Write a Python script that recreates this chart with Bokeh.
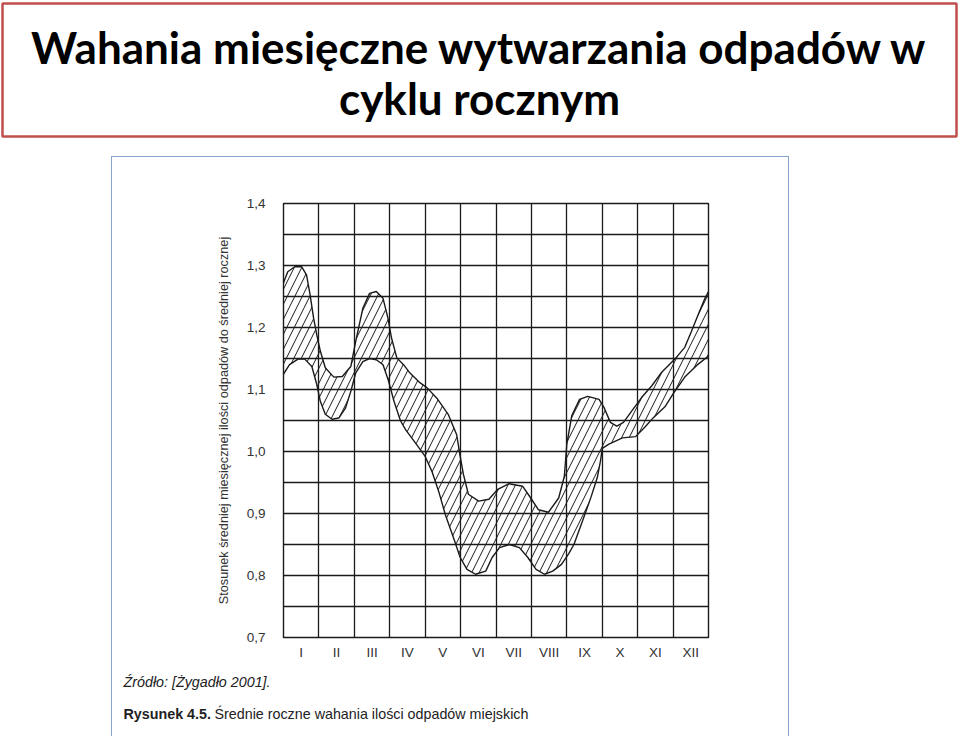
from bokeh.plotting import figure
from bokeh.layouts import column, row
from bokeh.models import Range1d, FixedTicker, CustomJSTickFormatter, Label, Spacer
from bokeh.embed import file_html
from bokeh.resources import INLINE

# ---------------- data ----------------
title_lines = ["Wahania miesięczne wytwarzania odpadów w", "cyklu rocznym"]
months = ["I", "II", "III", "IV", "V", "VI", "VII", "VIII", "IX", "X", "XI", "XII"]
y_ticks = [0.7, 0.8, 0.9, 1.0, 1.1, 1.2, 1.3, 1.4]
y_grid = [0.7, 0.75, 0.8, 0.85, 0.9, 0.95, 1.0, 1.05, 1.1, 1.15, 1.2, 1.25, 1.3, 1.35, 1.4]
x_grid = [0, 1, 2, 3, 4, 5, 6, 7, 8, 9, 10, 11, 12]

upper_x = [0, 0.12, 0.32, 0.51, 0.65, 0.75, 0.85, 0.94, 1.04, 1.18,
           1.42, 1.66, 1.9, 2.04, 2.24, 2.43, 2.62, 2.81, 2.95, 3.05,
           3.2, 3.39, 3.55, 3.83, 4.05, 4.33, 4.65, 4.89, 4.98, 5.08,
           5.22, 5.51, 5.8, 6.05, 6.37, 6.75, 6.98, 7.2, 7.48, 7.77,
           7.93, 8.0, 8.14, 8.36, 8.59, 8.91, 9.05, 9.23, 9.41, 9.6,
           9.83, 10.11, 10.4, 10.68, 11.05, 11.33, 11.52, 11.71, 11.9, 12.0]
upper_y = [1.272, 1.29, 1.298, 1.298, 1.285, 1.253, 1.215, 1.188, 1.162, 1.135,
           1.12, 1.121, 1.137, 1.178, 1.231, 1.255, 1.258, 1.247, 1.215, 1.183,
           1.151, 1.14, 1.128, 1.112, 1.103, 1.086, 1.06, 1.027, 0.995, 0.963,
           0.931, 0.92, 0.923, 0.939, 0.948, 0.944, 0.925, 0.906, 0.902, 0.925,
           0.96, 1.012, 1.058, 1.084, 1.089, 1.084, 1.071, 1.047, 1.041, 1.047,
           1.065, 1.087, 1.106, 1.128, 1.149, 1.168, 1.194, 1.221, 1.247, 1.258]

lower_x = [0, 0.17, 0.41, 0.6, 0.8, 0.94, 1.04, 1.18, 1.37, 1.56,
           1.75, 1.9, 2.04, 2.24, 2.43, 2.62, 2.81, 2.96, 3.12, 3.3,
           3.45, 3.62, 3.8, 4.0, 4.19, 4.38, 4.57, 4.8, 4.99, 5.18,
           5.42, 5.71, 5.89, 6.1, 6.38, 6.66, 6.9, 7.13, 7.37, 7.6,
           7.85, 8.05, 8.2, 8.45, 8.68, 8.86, 8.95, 9.0, 9.19, 9.57,
           9.94, 10.2, 10.45, 10.77, 11.0, 11.33, 11.71, 12.0]
lower_y = [1.125, 1.14, 1.149, 1.149, 1.137, 1.108, 1.081, 1.06, 1.052, 1.054,
           1.07, 1.097, 1.127, 1.145, 1.15, 1.148, 1.14, 1.115, 1.081, 1.05,
           1.035, 1.022, 1.008, 0.992, 0.968, 0.936, 0.898, 0.861, 0.829, 0.81,
           0.802, 0.807, 0.829, 0.845, 0.85, 0.845, 0.829, 0.81, 0.802, 0.807,
           0.818, 0.835, 0.85, 0.889, 0.926, 0.958, 0.985, 1.005, 1.012, 1.022,
           1.024, 1.039, 1.055, 1.072, 1.093, 1.12, 1.141, 1.154]

y_axis_title = "Stosunek średniej miesięcznej ilości odpadów do średniej rocznej"
source_note = "Źródło: [Żygadło 2001]."
caption_bold = "Rysunek 4.5."
caption_text = "Średnie roczne wahania ilości odpadów miejskich"

SANS = "Liberation Sans"
INK = "#1a1a1a"
TXT = "#333333"
BLUE = "1px solid #8AA4D0"

# ---------------- title box ----------------
tf = figure(width=958, height=138, x_range=Range1d(0, 1), y_range=Range1d(0, 1),
            output_backend="svg", toolbar_location=None,
            x_axis_type=None, y_axis_type=None,
            min_border_left=2, min_border_right=2, min_border_top=3, min_border_bottom=2)
tf.outline_line_color = "#C0504D"
tf.outline_line_width = 2.5
tf.background_fill_color = "white"
tf.border_fill_color = "white"
for txt, yy in zip(title_lines, [0.675, 0.29]):
    tf.add_layout(Label(x=0.5, y=yy, text=txt, text_align="center", text_baseline="middle",
                        text_font="Lato", text_font_style="bold", text_font_size="44px",
                        text_color="black"))

# ---------------- chart ----------------
p = figure(width=678, height=506, x_range=Range1d(0, 12), y_range=Range1d(0.7, 1.4),
           output_backend="svg", toolbar_location=None,
           min_border_left=171, min_border_right=82, min_border_top=46, min_border_bottom=26)
p.styles = {"border-left": BLUE, "border-top": BLUE, "border-right": BLUE}
p.background_fill_color = "white"
p.border_fill_color = "white"
p.outline_line_color = INK
p.outline_line_width = 1.4

p.xaxis.ticker = FixedTicker(ticks=[i + 0.5 for i in range(len(months))])
p.xaxis.formatter = CustomJSTickFormatter(args=dict(labels=months),
                                          code="return labels[Math.floor(tick)] || '';")
p.yaxis.ticker = FixedTicker(ticks=y_ticks)
p.yaxis.formatter = CustomJSTickFormatter(code="return tick.toFixed(1).replace('.', ',');")
for ax in p.axis:
    ax.axis_line_color = None
    ax.major_tick_line_color = None
    ax.minor_tick_line_color = None
    ax.major_label_text_font = SANS
    ax.major_label_text_font_size = "13.5px"
    ax.major_label_text_color = TXT
p.xaxis.major_label_standoff = 1
p.yaxis.major_label_standoff = 12
p.yaxis.axis_label = y_axis_title
p.yaxis.axis_label_standoff = 13
p.yaxis.axis_label_text_font = SANS
p.yaxis.axis_label_text_font_style = "normal"
p.yaxis.axis_label_text_font_size = "12.7px"
p.yaxis.axis_label_text_color = TXT

p.xgrid.ticker = FixedTicker(ticks=x_grid)
p.ygrid.ticker = FixedTicker(ticks=y_grid)
p.grid.grid_line_color = INK
p.grid.grid_line_width = 1.3
p.grid.grid_line_alpha = 1.0

band_x = upper_x + lower_x[::-1]
band_y = upper_y + lower_y[::-1]
p.patch(x=band_x, y=band_y, fill_color=None, line_color=None,
        hatch_pattern="/", hatch_color=INK, hatch_scale=15, hatch_weight=1.0)
p.line(upper_x, upper_y, line_color=INK, line_width=1.4)
p.line(lower_x, lower_y, line_color=INK, line_width=1.4)

# ---------------- captions (inside the blue frame) ----------------
cap = figure(width=678, height=74, x_range=Range1d(0, 678), y_range=Range1d(0, 74),
             output_backend="svg", toolbar_location=None,
             x_axis_type=None, y_axis_type=None,
             min_border_left=0, min_border_right=0, min_border_top=0, min_border_bottom=0)
cap.styles = {"border-left": BLUE, "border-right": BLUE}
cap.outline_line_color = None
cap.background_fill_color = "white"
cap.border_fill_color = "white"
cap.add_layout(Label(x=11, y=55, text=source_note, text_font=SANS, text_font_style="italic",
                     text_font_size="14.3px", text_baseline="middle", text_color="#222222"))
cap.add_layout(Label(x=11, y=23, text=caption_bold, text_font=SANS, text_font_style="bold",
                     text_font_size="14.3px", text_baseline="middle", text_color="#222222"))
cap.add_layout(Label(x=102, y=23, text=caption_text, text_font=SANS,
                     text_font_size="14.3px", text_baseline="middle", text_color="#222222"))

chart_block = column(row(Spacer(width=111, height=506), p),
                     row(Spacer(width=111, height=74), cap), spacing=0)
layout = column(tf, chart_block, spacing=18)

with open("out.html", "w", encoding="utf-8") as f:
    f.write(file_html(layout, INLINE))
